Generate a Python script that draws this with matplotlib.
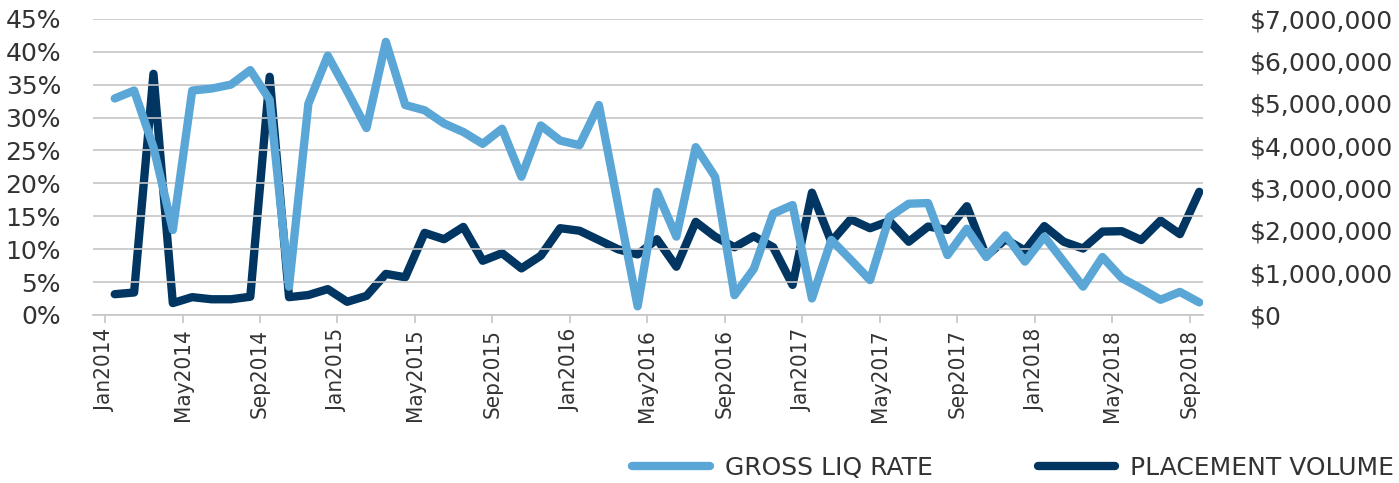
import matplotlib
matplotlib.use("Agg")
import matplotlib.pyplot as plt
from matplotlib.ticker import FuncFormatter, MultipleLocator

months = ["Jan", "Feb", "Mar", "Apr", "May", "Jun", "Jul", "Aug", "Sep", "Oct", "Nov", "Dec"]
labels = [m + str(y) for y in range(2014, 2019) for m in months][:57]

# gross liquidation rate, % (left axis)
liq_rate = [32.9, 34.1, 25.5, 12.9, 34.1, 34.4, 35.0, 37.2, 32.7, 4.3,
            32.1, 39.4, 34.0, 28.4, 41.5, 31.9, 31.1, 29.1, 27.8, 26.0,
            28.3, 21.0, 28.8, 26.5, 25.8, 31.9, 16.6, 1.3, 18.7, 11.9,
            25.5, 21.0, 3.0, 7.0, 15.4, 16.7, 2.5, 11.4, 8.4, 5.3,
            14.9, 16.9, 17.0, 9.1, 13.1, 8.8, 12.1, 8.1, 11.9, 8.1,
            4.3, 8.8, 5.6, 4.0, 2.3, 3.5, 1.9]

# placement volume, $ millions (right axis)
placement = [0.49, 0.53, 5.70, 0.28, 0.42, 0.37, 0.37, 0.43, 5.63, 0.42,
             0.47, 0.61, 0.31, 0.45, 0.97, 0.89, 1.94, 1.79, 2.08, 1.28,
             1.46, 1.10, 1.40, 2.05, 1.99, 1.77, 1.55, 1.43, 1.79, 1.14,
             2.20, 1.85, 1.60, 1.86, 1.60, 0.71, 2.89, 1.73, 2.26, 2.05,
             2.22, 1.73, 2.09, 2.01, 2.57, 1.39, 1.79, 1.52, 2.10, 1.73,
             1.57, 1.97, 1.98, 1.77, 2.23, 1.91, 2.91]

light = "#5aa6d6"
dark = "#003661"
grid_c = "#c6c6c6"
txt = "#333333"

fig = plt.figure(figsize=(13.99, 4.83), dpi=100)
ax = fig.add_axes([0.0665, 0.348, 0.7935, 0.613])
ax2 = ax.twinx()

x = list(range(len(labels)))
l1, = ax.plot(x, liq_rate, color=light, lw=6, solid_joinstyle="round",
              solid_capstyle="round", zorder=3)
l2, = ax2.plot(x, [v * 1e6 for v in placement], color=dark, lw=6,
               solid_joinstyle="round", solid_capstyle="round", zorder=3)

ax.set_ylim(0, 45)
ax2.set_ylim(0, 7e6)
ax.set_xlim(-1.12, 56.2)
ax.yaxis.set_major_locator(MultipleLocator(5))
ax2.yaxis.set_major_locator(MultipleLocator(1e6))
ax.yaxis.set_major_formatter(FuncFormatter(lambda v, p: "%d%%" % round(v)))
ax2.yaxis.set_major_formatter(FuncFormatter(lambda v, p: "${:,.0f}".format(v)))

ax.grid(axis="y", color=grid_c, lw=1.2)
ax.set_axisbelow(True)
ax.set_zorder(ax2.get_zorder() + 1)
ax.patch.set_visible(False)

tick_pos = [i - 0.5 for i in range(0, 57, 4)]
ax.set_xticks(tick_pos)
ax.set_xticklabels([labels[i] for i in range(0, 57, 4)], rotation=90,
                   fontstretch="condensed", fontsize=16, color=txt)
ax.tick_params(axis="x", length=6, color=grid_c, width=1.2, pad=4)
ax.tick_params(axis="y", length=0, pad=23, labelsize=18, labelcolor=txt)
ax2.tick_params(axis="y", length=0, pad=34, labelsize=18, labelcolor=txt)

for a in (ax, ax2):
    for s in ["top", "left", "right"]:
        a.spines[s].set_visible(False)
    a.spines["bottom"].set_color(grid_c)
    a.spines["bottom"].set_linewidth(1.2)
ax2.spines["bottom"].set_visible(False)

fig.legend([l1, l2], ["GROSS LIQ RATE", "PLACEMENT VOLUME"], loc="center right",
           bbox_to_anchor=(1394 / 1399, 0.031), ncol=2, frameon=False,
           handlelength=3.1, columnspacing=4.2, handletextpad=0.6,
           borderpad=0, borderaxespad=0, prop={"size": 18}, labelcolor=txt)

fig.savefig("out.png", dpi=100)
